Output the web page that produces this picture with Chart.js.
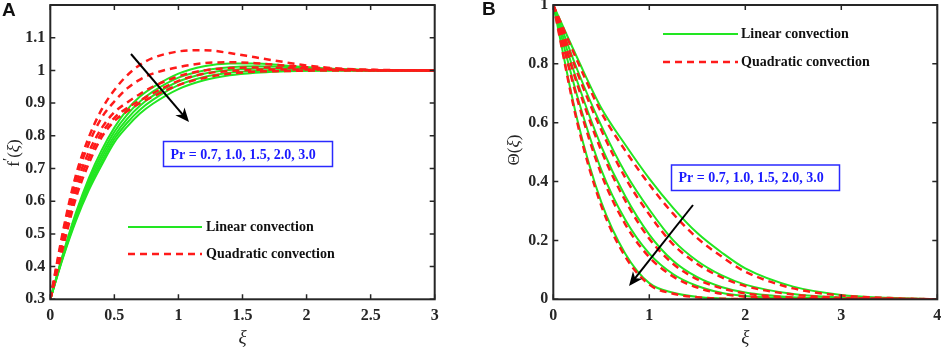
<!DOCTYPE html>
<html lang="en">
<head>
  <meta charset="UTF-8" />
  <title>Linear vs quadratic convection profiles</title>
  <script src="https://cdn.jsdelivr.net/npm/chart.js"></script>
  <style>
    body { margin: 0; background: #fff; }
    canvas { position: absolute; top: 0; }
  </style>
</head>
<body>
  <canvas id="chartA" width="470" height="348" style="left:0"></canvas>
  <canvas id="chartB" width="471" height="348" style="left:470px"></canvas>

  <script>
    const prText = 'Pr = 0.7, 1.0, 1.5, 2.0, 3.0';

    // Panel A: f'(xi), one row per Pr (0.7, 1.0, 1.5, 2.0, 3.0)
    const xiA = [0, 0.1, 0.2, 0.3, 0.4, 0.5, 0.6, 0.7, 0.8, 1.0, 1.2, 1.4, 1.6, 1.8, 2.0, 2.2, 2.5, 3.0];
    const fLinear = [
      [0.3, 0.44, 0.565, 0.67, 0.755, 0.825, 0.88, 0.92, 0.948, 0.99, 1.013, 1.021, 1.021, 1.016, 1.01, 1.005, 1.001, 1.0],
      [0.3, 0.437, 0.558, 0.66, 0.742, 0.812, 0.865, 0.905, 0.935, 0.978, 1.0, 1.01, 1.013, 1.011, 1.008, 1.004, 1.001, 1.0],
      [0.3, 0.434, 0.552, 0.651, 0.731, 0.8, 0.852, 0.892, 0.922, 0.966, 0.99, 1.001, 1.005, 1.005, 1.004, 1.002, 1.0, 1.0],
      [0.3, 0.431, 0.546, 0.642, 0.72, 0.79, 0.84, 0.88, 0.91, 0.955, 0.98, 0.993, 0.998, 1.0, 1.0, 1.0, 1.0, 1.0],
      [0.3, 0.428, 0.54, 0.633, 0.71, 0.78, 0.828, 0.868, 0.898, 0.943, 0.97, 0.985, 0.993, 0.997, 0.999, 1.0, 1.0, 1.0]
    ];
    const fQuad = [
      [0.3, 0.51, 0.68, 0.795, 0.88, 0.94, 0.985, 1.017, 1.038, 1.058, 1.062, 1.053, 1.04, 1.027, 1.015, 1.007, 1.002, 1.0],
      [0.3, 0.5, 0.665, 0.775, 0.855, 0.905, 0.945, 0.972, 0.99, 1.01, 1.022, 1.025, 1.022, 1.016, 1.01, 1.005, 1.001, 1.0],
      [0.3, 0.485, 0.645, 0.75, 0.823, 0.872, 0.902, 0.928, 0.95, 0.982, 1.0, 1.007, 1.009, 1.008, 1.006, 1.003, 1.001, 1.0],
      [0.3, 0.472, 0.628, 0.732, 0.808, 0.855, 0.885, 0.908, 0.93, 0.968, 0.99, 0.998, 1.002, 1.003, 1.003, 1.002, 1.0, 1.0],
      [0.3, 0.46, 0.61, 0.715, 0.795, 0.845, 0.875, 0.9, 0.92, 0.955, 0.977, 0.99, 0.996, 0.998, 0.999, 1.0, 1.0, 1.0]
    ];
    const xTicksA = [0, 0.5, 1, 1.5, 2, 2.5, 3];
    const yTicksA = [0.3, 0.4, 0.5, 0.6, 0.7, 0.8, 0.9, 1, 1.1];

    // Panel B: theta(xi)
    const xiB = [0, 0.25, 0.5, 0.75, 1, 1.25, 1.5, 1.75, 2, 2.5, 3, 3.5, 4];
    const thLinear = [
      [1, 0.82, 0.65, 0.525, 0.41, 0.31, 0.225, 0.16, 0.105, 0.043, 0.015, 0.005, 0],
      [1, 0.78, 0.59, 0.43, 0.305, 0.2, 0.13, 0.082, 0.05, 0.018, 0.006, 0.002, 0],
      [1, 0.74, 0.52, 0.35, 0.22, 0.13, 0.075, 0.042, 0.023, 0.007, 0.002, 0.001, 0],
      [1, 0.69, 0.44, 0.27, 0.155, 0.085, 0.045, 0.022, 0.011, 0.003, 0.001, 0, 0],
      [1, 0.61, 0.33, 0.155, 0.055, 0.022, 0.008, 0.003, 0.001, 0, 0, 0, 0]
    ];
    const thQuad = [
      [1, 0.81, 0.635, 0.505, 0.39, 0.29, 0.208, 0.146, 0.094, 0.037, 0.013, 0.004, 0],
      [1, 0.77, 0.575, 0.413, 0.288, 0.186, 0.12, 0.075, 0.045, 0.016, 0.005, 0.002, 0],
      [1, 0.73, 0.505, 0.335, 0.206, 0.12, 0.068, 0.038, 0.02, 0.006, 0.002, 0.001, 0],
      [1, 0.68, 0.425, 0.255, 0.143, 0.077, 0.04, 0.019, 0.009, 0.003, 0.001, 0, 0],
      [1, 0.6, 0.318, 0.145, 0.05, 0.019, 0.007, 0.002, 0.001, 0, 0, 0, 0]
    ];
    const xTicksB = [0, 1, 2, 3, 4];
    const yTicksB = [0, 0.2, 0.4, 0.6, 0.8, 1];

    const GREEN = '#22e622';
    const RED = '#ff1a1a';
    const INK = '#262626';
    const SERIF = '"Liberation Serif", "Times New Roman", serif';

    function makeSets(xs, lin, quad) {
      const sets = [];
      quad.forEach(row => sets.push({
        data: row.map((v, i) => ({ x: xs[i], y: v })),
        borderColor: RED, borderWidth: 2.5, borderDash: [7, 5], order: 0
      }));
      lin.forEach(row => sets.push({
        data: row.map((v, i) => ({ x: xs[i], y: v })),
        borderColor: GREEN, borderWidth: 2, order: 1
      }));
      return sets;
    }

    // box, inward ticks, legend, Pr box, arrow, axis titles
    const decor = {
      id: 'decor',
      afterDatasetsDraw(chart, args, o) {
        const { ctx, chartArea: a, scales: { x, y } } = chart;
        ctx.save();
        ctx.strokeStyle = INK;
        ctx.lineWidth = 1.5;
        ctx.beginPath();
        x.ticks.forEach(t => {
          const p = x.getPixelForValue(t.value);
          ctx.moveTo(p, a.bottom); ctx.lineTo(p, a.bottom - 5);
          ctx.moveTo(p, a.top); ctx.lineTo(p, a.top + 5);
        });
        y.ticks.forEach(t => {
          const p = y.getPixelForValue(t.value);
          ctx.moveTo(a.left, p); ctx.lineTo(a.left + 5, p);
          ctx.moveTo(a.right, p); ctx.lineTo(a.right - 5, p);
        });
        ctx.stroke();
        ctx.lineWidth = 2;
        ctx.strokeRect(a.left, a.top, a.right - a.left, a.bottom - a.top);

        // legend
        const L = o.legend;
        ctx.lineWidth = 2;
        ctx.strokeStyle = GREEN;
        ctx.beginPath(); ctx.moveTo(L.x1, L.y1); ctx.lineTo(L.x2, L.y1); ctx.stroke();
        ctx.strokeStyle = RED;
        ctx.lineWidth = 2.5;
        ctx.setLineDash([7, 5]);
        ctx.beginPath(); ctx.moveTo(L.x1, L.y2); ctx.lineTo(L.x2, L.y2); ctx.stroke();
        ctx.setLineDash([]);
        ctx.fillStyle = '#111';
        ctx.font = 'bold 14px ' + SERIF;
        ctx.textBaseline = 'middle';
        ctx.textAlign = 'left';
        ctx.fillText('Linear convection', L.tx, L.y1);
        ctx.fillText('Quadratic convection', L.tx, L.y2);

        // Pr box
        const B = o.box;
        ctx.strokeStyle = '#2a2aff';
        ctx.lineWidth = 1.5;
        ctx.strokeRect(B.x, B.y, B.w, B.h);
        ctx.fillStyle = '#1a1aff';
        ctx.font = 'bold 14px ' + SERIF;
        ctx.fillText(prText, B.x + 7, B.y + B.h / 2 + 1);

        // arrow
        const [x1, y1, x2, y2] = o.arrow;
        const ang = Math.atan2(y2 - y1, x2 - x1);
        ctx.strokeStyle = '#000';
        ctx.fillStyle = '#000';
        ctx.lineWidth = 2;
        ctx.beginPath();
        ctx.moveTo(x1, y1);
        ctx.lineTo(x2 - 8 * Math.cos(ang), y2 - 8 * Math.sin(ang));
        ctx.stroke();
        ctx.translate(x2, y2);
        ctx.rotate(ang);
        ctx.beginPath();
        ctx.moveTo(0, 0);
        ctx.lineTo(-14, -6);
        ctx.lineTo(-10, 0);
        ctx.lineTo(-14, 6);
        ctx.closePath();
        ctx.fill();
        ctx.setTransform(1, 0, 0, 1, 0, 0);

        // axis titles
        ctx.fillStyle = INK;
        ctx.textAlign = 'center';
        ctx.font = 'italic 19px ' + SERIF;
        ctx.fillText('ξ', (a.left + a.right) / 2, 338);

        ctx.save();
        ctx.translate(o.yTitle.x, o.yTitle.y);
        ctx.rotate(-Math.PI / 2);
        ctx.textAlign = 'left';
        const parts = o.yTitle.parts;
        let w = 0;
        parts.forEach(p => { ctx.font = p[1] + ' ' + SERIF; w += ctx.measureText(p[0]).width; });
        let cx = -w / 2;
        parts.forEach(p => {
          ctx.font = p[1] + ' ' + SERIF;
          ctx.fillText(p[0], cx, p[2] || 0);
          cx += ctx.measureText(p[0]).width;
        });
        ctx.restore();

        // panel letter
        ctx.font = 'bold 19px "Liberation Sans", Arial, sans-serif';
        ctx.fillStyle = '#111';
        ctx.textAlign = 'left';
        ctx.fillText(o.letter.text, o.letter.x, o.letter.y);
        ctx.restore();
      }
    };

    function axes(xmin, xmax, xt, ymin, ymax, yt, yWidth) {
      const tickFont = { family: SERIF, size: 16, weight: 'bold' };
      return {
        x: {
          type: 'linear', min: xmin, max: xmax,
          afterBuildTicks: s => { s.ticks = xt.map(v => ({ value: v })); },
          afterFit: s => { s.height = 48.7; s.paddingLeft = 0; s.paddingRight = 0; },
          grid: { display: false, drawTicks: false },
          border: { display: false },
          ticks: { color: INK, font: tickFont, padding: 7, maxRotation: 0, callback: v => String(v) }
        },
        y: {
          type: 'linear', min: ymin, max: ymax,
          afterBuildTicks: s => { s.ticks = yt.map(v => ({ value: v })); },
          afterFit: s => { s.width = yWidth; s.paddingTop = 0; s.paddingBottom = 0; },
          grid: { display: false, drawTicks: false },
          border: { display: false },
          ticks: { color: INK, font: tickFont, padding: 5, callback: v => String(v) }
        }
      };
    }

    const common = {
      responsive: false,
      animation: false,
      elements: { point: { radius: 0 }, line: { cubicInterpolationMode: 'monotone' } },
      plugins: { legend: { display: false }, tooltip: { enabled: false } }
    };

    new Chart(document.getElementById('chartA'), {
      type: 'line',
      data: { datasets: makeSets(xiA, fLinear, fQuad) },
      options: {
        ...common,
        layout: { padding: { top: 5, right: 35.3, left: 0, bottom: 0 } },
        scales: axes(0, 3, xTicksA, 0.3, 1.2, yTicksA, 50.3),
        plugins: {
          ...common.plugins,
          decor: {
            legend: { x1: 128, x2: 202, y1: 227, y2: 254, tx: 206 },
            box: { x: 163.5, y: 141.5, w: 169, h: 25 },
            arrow: [131, 54, 189, 122],
            yTitle: { x: 15, y: 153, parts: [['f', '17px'], ['′', '15px', -6], ['(', '17px'], ['ξ', 'italic 17px'], [')', '17px']] },
            letter: { text: 'A', x: 2, y: 11 }
          }
        }
      },
      plugins: [decor]
    });

    new Chart(document.getElementById('chartB'), {
      type: 'line',
      data: { datasets: makeSets(xiB, thLinear, thQuad) },
      options: {
        ...common,
        layout: { padding: { top: 5, right: 3.7, left: 0, bottom: 0 } },
        scales: axes(0, 4, xTicksB, 0, 1, yTicksB, 83.3),
        plugins: {
          ...common.plugins,
          decor: {
            legend: { x1: 193, x2: 268, y1: 34, y2: 62, tx: 271 },
            box: { x: 201.5, y: 165, w: 168, h: 25.5 },
            arrow: [223, 205, 159, 286],
            yTitle: { x: 45, y: 150, parts: [['Θ(', '17px'], ['ξ', 'italic 17px'], [')', '17px']] },
            letter: { text: 'B', x: 12, y: 10 }
          }
        }
      },
      plugins: [decor]
    });
  </script>
</body>
</html>
